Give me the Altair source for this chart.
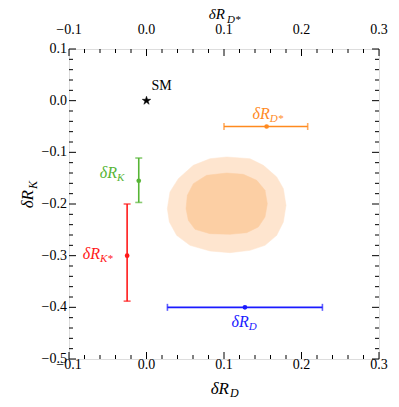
import altair as alt
import pandas as pd

# ---- data ----
bar_names = ["D*", "K", "K*", "D"]
bar_cx = [0.155, -0.010, -0.025, 0.127]
bar_cy = [-0.050, -0.155, -0.300, -0.400]
bar_xlo = [0.100, -0.010, -0.025, 0.027]
bar_xhi = [0.208, -0.010, -0.025, 0.227]
bar_ylo = [-0.050, -0.197, -0.388, -0.400]
bar_yhi = [-0.050, -0.111, -0.200, -0.400]
bar_colors = ["#ff8a1f", "#57b536", "#ff1a1a", "#1a1aff"]
bar_horizontal = [True, False, False, True]

# label anchors (join point between "δR" and the subscript)
lab_x = [0.159, -0.038, -0.060, 0.132]
lab_y = [-0.036, -0.150, -0.306, -0.438]

sm_x = [0.0]
sm_y = [0.0]

outer_x = [0.1034, 0.1335, 0.1508, 0.1680, 0.1766, 0.1800, 0.1766, 0.1680, 0.1529, 0.1335,
           0.1077, 0.0819, 0.0561, 0.0389, 0.0295, 0.0269, 0.0303, 0.0411, 0.0604, 0.0819]
outer_y = [-0.109, -0.1123, -0.1252, -0.1477, -0.1703, -0.2026, -0.2348, -0.2606, -0.2800, -0.2897,
           -0.2942, -0.2910, -0.2800, -0.2606, -0.2348, -0.2090, -0.1768, -0.1510, -0.1252, -0.1123]
inner_x = [0.1034, 0.1249, 0.1422, 0.1529, 0.1559, 0.1529, 0.1443, 0.1293, 0.1077, 0.0819,
           0.0626, 0.0540, 0.0510, 0.0527, 0.0604, 0.0776]
inner_y = [-0.140, -0.1426, -0.1542, -0.1735, -0.1994, -0.2252, -0.2445, -0.2555, -0.2587, -0.2574,
           -0.2490, -0.2316, -0.2090, -0.1832, -0.1606, -0.1445]

x_major = [-0.1, 0.0, 0.1, 0.2, 0.3]
x_minor = [-0.08, -0.06, -0.04, -0.02, 0.02, 0.04, 0.06, 0.08, 0.12, 0.14, 0.16, 0.18,
           0.22, 0.24, 0.26, 0.28]
y_major = [-0.5, -0.4, -0.3, -0.2, -0.1, 0.0, 0.1]
y_minor = [-0.48, -0.46, -0.44, -0.42, -0.38, -0.36, -0.34, -0.32, -0.28, -0.26, -0.24, -0.22,
           -0.18, -0.16, -0.14, -0.12, -0.08, -0.06, -0.04, -0.02, 0.02, 0.04, 0.06, 0.08]

W = 310
H = 310
SERIF = "Liberation Serif"
STAR = ("M0,-1L0.2245,-0.309L0.951,-0.309L0.363,0.118L0.588,0.809L0,0.382"
        "L-0.588,0.809L-0.363,0.118L-0.951,-0.309L-0.2245,-0.309Z")

xs = alt.Scale(domain=[-0.1, 0.3], nice=False, zero=False)
ys = alt.Scale(domain=[-0.5, 0.1], nice=False, zero=False)

# ---- frames ----
bars = pd.DataFrame({"name": bar_names, "cx": bar_cx, "cy": bar_cy, "xlo": bar_xlo, "xhi": bar_xhi,
                     "ylo": bar_ylo, "yhi": bar_yhi, "color": bar_colors, "horiz": bar_horizontal,
                     "lx": lab_x, "ly": lab_y})
caps_v = pd.concat([bars[bars.horiz].assign(px=bars.xlo, py=bars.cy),
                    bars[bars.horiz].assign(px=bars.xhi, py=bars.cy)])
caps_h = pd.concat([bars[~bars.horiz].assign(px=bars.cx, py=bars.ylo),
                    bars[~bars.horiz].assign(px=bars.cx, py=bars.yhi)])
outer = pd.DataFrame({"x": outer_x + outer_x[:1], "y": outer_y + outer_y[:1]})
outer["o"] = range(len(outer))
inner = pd.DataFrame({"x": inner_x + inner_x[:1], "y": inner_y + inner_y[:1]})
inner["o"] = range(len(inner))

color_enc = alt.Color("color:N", scale=None)


def X(f):
    return alt.X(f, scale=xs, axis=None, title=None)


def Y(f):
    return alt.Y(f, scale=ys, axis=None, title=None)


base_outer = alt.Chart(outer).mark_line(fill="#fee5cf", stroke="#fee5cf", strokeWidth=0.5).encode(
    x=X("x:Q"), y=Y("y:Q"), order="o:Q")
base_inner = alt.Chart(inner).mark_line(fill="#fccfa4", stroke="#fccfa4", strokeWidth=0.5).encode(
    x=X("x:Q"), y=Y("y:Q"), order="o:Q")

rules = alt.Chart(bars).mark_rule(strokeWidth=1.6).encode(
    x=X("xlo:Q"), x2="xhi:Q", y=Y("ylo:Q"), y2="yhi:Q", color=color_enc)
capv = alt.Chart(caps_v).mark_tick(orient="vertical", size=7, thickness=1.6).encode(
    x=X("px:Q"), y=Y("py:Q"), color=color_enc)
caph = alt.Chart(caps_h).mark_tick(orient="horizontal", size=7, thickness=1.6).encode(
    x=X("px:Q"), y=Y("py:Q"), color=color_enc)
pts = alt.Chart(bars).mark_point(filled=True, size=22, opacity=1).encode(
    x=X("cx:Q"), y=Y("cy:Q"), color=color_enc)

lab_main = alt.Chart(bars).mark_text(text="δR", font=SERIF, fontStyle="italic", fontSize=16,
                                     align="right", baseline="alphabetic").encode(
    x=X("lx:Q"), y=Y("ly:Q"), color=color_enc)
lab_sub = alt.Chart(bars).mark_text(font=SERIF, fontStyle="italic", fontSize=11,
                                    align="left", baseline="alphabetic", dy=3, dx=0).encode(
    x=X("lx:Q"), y=Y("ly:Q"), text="name:N", color=color_enc)

sm_df = pd.DataFrame({"x": sm_x, "y": sm_y})
star = alt.Chart(sm_df).mark_point(shape=STAR, filled=True, size=80, fill="black", stroke="black",
                                   strokeWidth=0.5, opacity=1).encode(x=X("x:Q"), y=Y("y:Q"))
sm_text = alt.Chart(sm_df).mark_text(text="SM", font=SERIF, fontSize=14, align="center",
                                     baseline="alphabetic", dx=15, dy=-11, fill="black").encode(
    x=X("x:Q"), y=Y("y:Q"))

# ---- inward ticks ----
xmaj = pd.DataFrame({"v": x_major})
xmin = pd.DataFrame({"v": x_minor})
ymaj = pd.DataFrame({"v": y_major})
ymin = pd.DataFrame({"v": y_minor})
tk = dict(stroke="black", strokeWidth=1)


def xticks(df, length):
    b = alt.Chart(df).mark_rule(**tk).encode(x=X("v:Q"), y=alt.value(H), y2=alt.value(H - length))
    t = alt.Chart(df).mark_rule(**tk).encode(x=X("v:Q"), y=alt.value(0), y2=alt.value(length))
    return [b, t]


def yticks(df, length):
    l = alt.Chart(df).mark_rule(**tk).encode(y=Y("v:Q"), x=alt.value(0), x2=alt.value(length))
    r = alt.Chart(df).mark_rule(**tk).encode(y=Y("v:Q"), x=alt.value(W), x2=alt.value(W - length))
    return [l, r]


tick_layers = xticks(xmaj, 7) + xticks(xmin, 4) + yticks(ymaj, 7) + yticks(ymin, 4)

# tick labels as text
LBL = dict(font=SERIF, fontSize=14, fill="black")
top_labels = alt.Chart(xmaj).mark_text(align="center", baseline="alphabetic", **LBL).encode(
    x=X("v:Q"), y=alt.value(-15), text=alt.Text("v:Q", format=".1f"))
bottom_labels = alt.Chart(xmaj).mark_text(align="center", baseline="alphabetic", **LBL).encode(
    x=X("v:Q"), y=alt.value(H + 10), text=alt.Text("v:Q", format=".1f"))
left_labels = alt.Chart(ymaj).mark_text(align="right", baseline="middle", **LBL).encode(
    y=Y("v:Q"), x=alt.value(-2), text=alt.Text("v:Q", format=".1f"))

# ---- axis titles as text ----
title_df = pd.DataFrame({"a": [0]})


def ttext(txt, x, y, size, align, angle=0):
    return alt.Chart(title_df).mark_text(text=txt, font=SERIF, fontStyle="italic", fontSize=size,
                                         align=align, baseline="alphabetic", angle=angle,
                                         fill="black").encode(x=alt.value(x), y=alt.value(y))


titles = [
    ttext("δR", 156, -30, 15, "right"), ttext("D*", 158, -26, 11, "left"),
    ttext("δR", 160, 345, 17, "right"), ttext("D", 161, 348, 12, "left"),
    ttext("δR", -36, 141, 17, "right", 270), ttext("K", -32, 140, 12, "left", 270),
]

chart = alt.layer(
    base_outer, base_inner, rules, capv, caph, pts, lab_main, lab_sub, star, sm_text,
    *tick_layers, top_labels, bottom_labels, left_labels, *titles
).properties(
    width=W, height=H,
    autosize=alt.AutoSizeParams(type="none"),
    padding={"left": 61, "top": 41, "right": 12, "bottom": 40},
).configure_view(stroke="black", strokeWidth=1.2).configure(background="white")

chart.save("out.html", embed_options={"renderer": "svg", "actions": False})
